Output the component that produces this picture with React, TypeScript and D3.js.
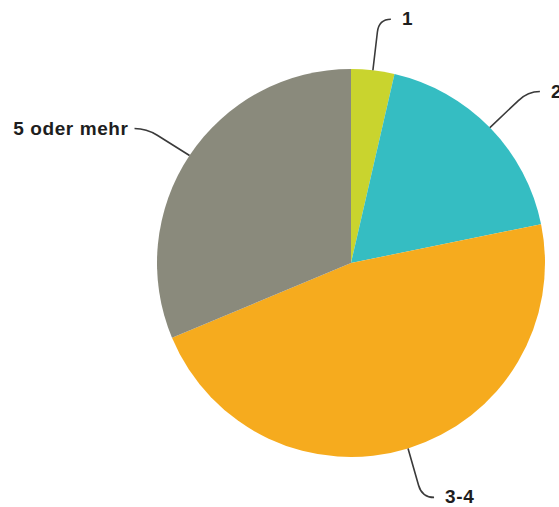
import React from "react";
import * as d3 from "d3";

const categories = ["1", "2", "3-4", "5 oder mehr"];
const values = [3.6, 18.2, 46.9, 31.3];
const colors = ["#c9d42e", "#35bdc2", "#f6ab1e", "#8a8a7c"];

const W = 559;
const H = 507;
const cx = 351;
const cy = 263;
const R = 194;

// label layout: end of leader relative to anchor; text side; gap
const labelEnds: [number, number, number, number][] = [
  [18, -51, 1, 11],
  [50, -36, 1, 11],
  [26, 49, 1, 11],
  [-55, -27, -1, 6],
];

export default function App() {
  const pie = d3.pie<number>().sort(null).value((d) => d);
  const arcs = pie(values);
  const arc = d3.arc<d3.PieArcDatum<number>>().innerRadius(0).outerRadius(R);

  return (
    <svg
      width={W}
      height={H}
      style={{ position: "absolute", left: 0, top: 0, background: "#fff" }}
    >
      <g transform={`translate(${cx},${cy})`}>
        {arcs.map((a, i) => (
          <path key={i} d={arc(a) || ""} fill={colors[i]} />
        ))}
        {arcs.map((a, i) => {
          const mid = (a.startAngle + a.endAngle) / 2;
          const sx = R * Math.sin(mid);
          const sy = -R * Math.cos(mid);
          const [dx, dy, dir, gap] = labelEnds[i];
          const ex = sx + dx;
          const ey = sy + dy;
          const elx = ex - dir * 12;
          const ely = ey;
          const kx = elx + (sx - elx) * 0.25;
          const ky = ely + (sy - ely) * 0.25;
          const path = d3.path();
          path.moveTo(sx, sy);
          path.lineTo(kx, ky);
          path.quadraticCurveTo(elx, ely, ex, ey);
          const tx = ex + dir * gap;
          return (
            <g key={"l" + i}>
              <path
                d={path.toString()}
                fill="none"
                stroke="#3a3a3a"
                strokeWidth={1.6}
              />
              <text
                x={tx}
                y={ey + 1}
                textAnchor={dir > 0 ? "start" : "end"}
                dominantBaseline="middle"
                fontFamily="'Liberation Sans', Arial, sans-serif"
                fontWeight="bold"
                fontSize={19}
                letterSpacing={0.6}
                fill="#1e1e1e"
              >
                {categories[i]}
              </text>
            </g>
          );
        })}
      </g>
    </svg>
  );
}
